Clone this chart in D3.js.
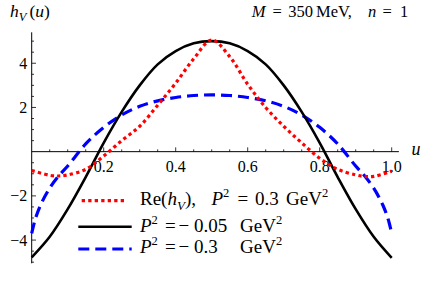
<html>
<head>
    <style>
        body { margin: 0; background: #fff; }
        .curve { fill: none; }
    </style>
</head>
<body>
    <svg id="container" width="436" height="281"></svg>
</body>
<script src="https://d3js.org/d3.v7.min.js"></script>
<script>
    // data
    let uRed = [0, 0.05, 0.075, 0.1, 0.15, 0.2, 0.25, 0.3, 0.35, 0.4, 0.45, 0.5,
                0.55, 0.6, 0.65, 0.7, 0.75, 0.8, 0.85, 0.9, 0.925, 0.95, 1.0]
    let hRed = [-0.85, -1.07, -1.1, -1.05, -0.8, -0.2, 0.5, 1.15, 2.1, 3.1, 4.2, 5.05,
                4.3, 3.05, 2.0, 1.15, 0.4, -0.3, -0.8, -1.05, -1.12, -1.12, -0.88]

    let uBlack = [0, 0.05, 0.1, 0.15, 0.2, 0.25, 0.3, 0.35, 0.4, 0.45, 0.5,
                  0.55, 0.6, 0.65, 0.7, 0.75, 0.8, 0.85, 0.9, 0.95, 1.0]
    let hBlack = [-4.78, -3.85, -2.6, -1.15, 0.4, 1.8, 3.0, 3.95, 4.55, 4.9, 5.0,
                  4.9, 4.55, 3.95, 3.0, 1.8, 0.4, -1.15, -2.6, -3.85, -4.8]

    let uBlue = [0, 0.01, 0.025, 0.05, 0.075, 0.1, 0.15, 0.2, 0.25, 0.3, 0.35, 0.4, 0.45, 0.5,
                 0.55, 0.6, 0.65, 0.7, 0.75, 0.8, 0.85, 0.9, 0.925, 0.95, 0.975, 0.99, 1.0]
    let hBlue = [-3.7, -3.05, -2.4, -1.65, -1.1, -0.65, 0.35, 1.1, 1.66, 2.05, 2.3, 2.45, 2.54, 2.57,
                 2.54, 2.45, 2.3, 2.05, 1.66, 1.1, 0.35, -0.65, -1.1, -1.65, -2.4, -3.05, -3.7]

    let xMajor = [0.2, 0.4, 0.6, 0.8, 1.0]
    let yMajor = [-4, -2, 2, 4]

    let svg = d3.select("#container")

    let xScale = d3.scaleLinear().domain([0, 1.02]).range([31.7, 398.9])
    let yScale = d3.scaleLinear().domain([-5.05, 5.4]).range([263.3, 32.3])

    function label(x, y, size) {
        return svg.append("text").attr("x", x).attr("y", y)
            .attr("font-family", "Liberation Serif").attr("font-size", size).attr("fill", "#000")
    }

    // x axis, minor ticks every 0.05
    let xMinor = d3.range(0.05, 1.001, 0.05).filter(t => !xMajor.some(m => Math.abs(m - t) < 1e-6))
    let gx = svg.append("g").attr("transform", "translate(0," + yScale(0) + ")")
    gx.append("line").attr("x1", xScale(0)).attr("x2", xScale(1.02)).attr("stroke", "#000")
    gx.selectAll(".minor").data(xMinor).join("line")
        .attr("x1", d => xScale(d)).attr("x2", d => xScale(d))
        .attr("y1", 0).attr("y2", -2.3).attr("stroke", "#000").attr("stroke-width", 0.8)
    gx.selectAll(".major").data(xMajor).join("line")
        .attr("x1", d => xScale(d)).attr("x2", d => xScale(d))
        .attr("y1", 0).attr("y2", -4.3).attr("stroke", "#000").attr("stroke-width", 0.8)
    xMajor.forEach(d => {
        label(xScale(d), yScale(0) + 20, 16).attr("text-anchor", "middle").text(d3.format(".1f")(d))
    })

    // y axis, minor ticks every 0.5
    let yMinor = d3.range(-5, 5.01, 0.5).filter(t => t !== 0 && !yMajor.includes(t))
    let gy = svg.append("g").attr("transform", "translate(" + xScale(0) + ",0)")
    gy.append("line").attr("y1", yScale(-5.05)).attr("y2", yScale(5.4)).attr("stroke", "#000")
    gy.selectAll(".minor").data(yMinor).join("line")
        .attr("y1", d => yScale(d)).attr("y2", d => yScale(d))
        .attr("x1", 0).attr("x2", 2.3).attr("stroke", "#000").attr("stroke-width", 0.8)
    gy.selectAll(".major").data(yMajor).join("line")
        .attr("y1", d => yScale(d)).attr("y2", d => yScale(d))
        .attr("x1", 0).attr("x2", 4.3).attr("stroke", "#000").attr("stroke-width", 0.8)
    yMajor.forEach(d => {
        label(xScale(0) - 4.5, yScale(d) + 5.5, 16).attr("text-anchor", "end")
            .text(d < 0 ? "\u2212" + Math.abs(d) : d)
    })

    // curves
    let line = d3.line().curve(d3.curveCatmullRom.alpha(0.5))
        .x(d => xScale(d[0])).y(d => yScale(d[1]))

    svg.append("path").datum(d3.zip(uBlue, hBlue))
        .attr("class", "curve").attr("d", line)
        .attr("stroke", "#0000ff").attr("stroke-width", 3.2)
        .attr("stroke-dasharray", "11,6")

    svg.append("path").datum(d3.zip(uBlack, hBlack))
        .attr("class", "curve").attr("d", line)
        .attr("stroke", "#000").attr("stroke-width", 2.6)

    svg.append("path").datum(d3.zip(uRed, hRed))
        .attr("class", "curve").attr("d", line)
        .attr("stroke", "#ff0000").attr("stroke-width", 3.2)
        .attr("stroke-dasharray", "3.3,3.2")

    // axis labels and title
    let yLab = label(10, 16.7, 17.5)
    yLab.append("tspan").attr("font-style", "italic").text("h")
    yLab.append("tspan").attr("font-style", "italic").attr("font-size", 12.5).attr("dy", 4).text("V")
    yLab.append("tspan").attr("dy", -4).attr("x", 29.5).text("(")
    yLab.append("tspan").attr("font-style", "italic").text("u")
    yLab.append("tspan").text(")")

    label(416, 155, 18).attr("text-anchor", "middle").attr("font-style", "italic").text("u")

    let title = label(251.7, 17.3, 16.5)
    title.append("tspan").attr("font-style", "italic").text("M")
    title.append("tspan").attr("x", 272.5).text("=")
    title.append("tspan").attr("x", 288.3).text("350")
    title.append("tspan").attr("x", 316).text("MeV,")
    title.append("tspan").attr("x", 368).attr("font-style", "italic").text("n")
    title.append("tspan").attr("x", 382.5).text("=")
    title.append("tspan").attr("x", 400).text("1")

    // legend
    let legendRows = [
        {y: 200.7, x1: 81.7, x2: 126.7, color: "#ff0000", dash: "3.3,3.2", w: 3.2},
        {y: 226.7, x1: 78.3, x2: 131.7, color: "#000", dash: null, w: 2.6},
        {y: 249, x1: 78.3, x2: 131.7, color: "#0000ff", dash: "11,6", w: 3.2}
    ]
    legendRows.forEach(r => {
        svg.append("line").attr("x1", r.x1).attr("x2", r.x2).attr("y1", r.y).attr("y2", r.y)
            .attr("stroke", r.color).attr("stroke-width", r.w)
            .attr("stroke-dasharray", r.dash)
    })

    function sup(t, s) {
        t.append("tspan").attr("font-size", 12.5).attr("dy", -8).text(s)
    }
    let t1 = label(140, 205.3, 19)
    t1.append("tspan").text("Re(")
    t1.append("tspan").attr("font-style", "italic").text("h")
    t1.append("tspan").attr("font-style", "italic").attr("font-size", 13).attr("dy", 4.5).text("V")
    t1.append("tspan").attr("dy", -4.5).text("),")
    t1.append("tspan").attr("x", 211.5).attr("font-style", "italic").text("P")
    sup(t1, "2")
    t1.append("tspan").attr("dy", 8).attr("x", 237.5).text("=")
    t1.append("tspan").attr("x", 255).text("0.3")
    t1.append("tspan").attr("x", 286).text("GeV")
    sup(t1, "2")

    let t2 = label(140, 231.5, 19)
    t2.append("tspan").attr("font-style", "italic").text("P")
    sup(t2, "2")
    t2.append("tspan").attr("dy", 8).attr("x", 165).text("=")
    t2.append("tspan").attr("x", 178.5).text("\u2212")
    t2.append("tspan").attr("x", 194).text("0.05")
    t2.append("tspan").attr("x", 240).text("GeV")
    sup(t2, "2")

    let t3 = label(140, 253.3, 19)
    t3.append("tspan").attr("font-style", "italic").text("P")
    sup(t3, "2")
    t3.append("tspan").attr("dy", 8).attr("x", 165).text("=")
    t3.append("tspan").attr("x", 178.5).text("\u2212")
    t3.append("tspan").attr("x", 194).text("0.3")
    t3.append("tspan").attr("x", 240).text("GeV")
    sup(t3, "2")
</script>
</html>
